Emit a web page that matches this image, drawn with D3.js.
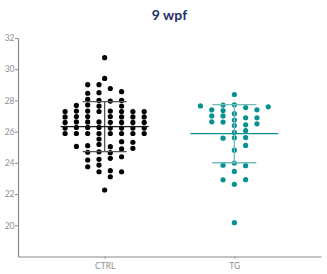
<!DOCTYPE html>
<html><head><meta charset="utf-8">
<script src="https://cdn.jsdelivr.net/npm/d3@7"></script>
<style>html,body{margin:0;padding:0;background:#fff;}svg{display:block;}</style>
</head><body>
<svg id="chart" width="327" height="274"></svg>
<script>
const title = "9 wpf";
const categories = ["CTRL", "TG"];
const yTicks = [20, 22, 24, 26, 28, 30, 32];
const ctrlValues = [30.74, 29.41, 22.26,
  29.01, 28.50, 28.00, 27.64, 27.29, 26.62, 26.27, 25.88, 25.53, 25.18, 24.71, 24.23, 23.86, 23.43,
  28.76, 27.96, 27.32, 26.97, 26.60, 26.23, 25.88, 25.04, 24.65, 24.29, 23.50, 23.11,
  29.01, 28.46, 28.07, 27.71, 27.32, 26.97, 26.62, 26.27, 25.88, 25.10, 24.68, 24.18, 23.75,
  28.56, 28.00, 27.64, 27.29, 26.94, 26.59, 26.23, 25.88, 25.36, 24.89, 24.39, 23.43,
  27.68, 27.32, 26.97, 26.62, 26.27, 25.88, 25.05,
  27.29, 26.94, 26.59, 26.23, 25.88, 25.32, 24.93,
  27.29, 26.94, 26.59, 26.23, 25.88,
  27.29, 26.94, 26.59, 26.23, 25.88];
const tgValues = [28.38, 27.72, 27.15, 26.74, 26.39, 26.06, 25.61, 24.81, 23.99, 23.45, 22.63, 20.17,
  27.54, 26.89, 26.44, 25.62, 25.12, 23.82, 22.92,
  27.70, 27.35, 27.01, 26.61, 25.95, 25.58, 23.85, 22.91,
  27.40, 26.89, 26.50,
  27.40, 27.01, 26.63,
  27.59,
  27.65];
const seriesValues = [ctrlValues, tgValues];
const dotColors = ["#000000", "#07918f"];
const meanColors = ["#1a1a1a", "#07918f"];
const sdColors = ["#555555", "#6cbdbb"];

const svg = d3.select("#chart");
const axisColor = "#8a8a8a";
const y = d3.scaleLinear().domain([18, 32]).range([256.5, 38]);
const x = d3.scalePoint().domain(categories).range([18, 321]).padding(0.668);

// axes
const yAxis = svg.append("g").attr("transform", "translate(18,0)")
  .call(d3.axisLeft(y).tickValues(yTicks).tickSize(3).tickSizeOuter(0));
const xAxis = svg.append("g").attr("transform", "translate(0,256.5)")
  .call(d3.axisBottom(x).tickSize(2).tickSizeOuter(0));
[yAxis, xAxis].forEach(g => {
  g.select(".domain").attr("stroke", axisColor).attr("stroke-width", 1.2);
  g.selectAll(".tick line").attr("stroke", axisColor);
  g.selectAll(".tick text").attr("fill", "#8f8f8f").attr("font-family", "Lato, 'DejaVu Sans', sans-serif").attr("font-size", 8.5);
});
yAxis.selectAll(".tick text").attr("x", -3.5);
xAxis.selectAll(".tick text").attr("y", 6);

svg.append("text").attr("x", 169.5).attr("y", 20).attr("text-anchor", "middle")
  .attr("font-family", "Lato, 'Open Sans', sans-serif").attr("font-weight", 700)
  .attr("font-size", 14).attr("fill", "#1f3161").text(title);

// beeswarm layout: fixed columns, greedy vertical non-overlap, in data order
const step = 11.3, minGap = 5.2;
function layout(values) {
  const half = values.length % 2 === 0;
  const pts = values.map(v => ({v, py: y(v)}));
  const cands = [];
  for (let k = 0; k < 10; k++) {
    if (half) cands.push(-(k + 0.5), k + 0.5);
    else if (k === 0) cands.push(0); else cands.push(k, -k);
  }
  const placed = [];
  pts.forEach(p => {
    const isolated = pts.every(q => q === p || Math.abs(q.py - p.py) >= minGap * 1.15);
    const list = (half && isolated) ? [0].concat(cands) : cands;
    for (const c of list) {
      if (placed.every(q => q.col !== c || Math.abs(q.py - p.py) >= minGap)) {
        p.col = c; placed.push(p); break;
      }
    }
  });
  return placed;
}

categories.forEach((cat, i) => {
  const vals = seriesValues[i];
  const cx = x(cat);
  const m = d3.mean(vals), sd = d3.deviation(vals);
  const g = svg.append("g");
  const pts = layout(vals);
  g.selectAll("circle").data(pts).join("circle")
    .attr("cx", d => cx + d.col * step).attr("cy", d => d.py).attr("r", 2.6)
    .attr("fill", dotColors[i]);
  // error bars
  g.append("line").attr("x1", cx).attr("x2", cx).attr("y1", y(m + sd)).attr("y2", y(m - sd))
    .attr("stroke", sdColors[i]).attr("stroke-width", 1.3);
  [m + sd, m - sd].forEach(v => g.append("line").attr("x1", cx - 22).attr("x2", cx + 22)
    .attr("y1", y(v)).attr("y2", y(v)).attr("stroke", sdColors[i]).attr("stroke-width", 1.3));
  g.append("line").attr("x1", cx - 44).attr("x2", cx + 44).attr("y1", y(m)).attr("y2", y(m))
    .attr("stroke", meanColors[i]).attr("stroke-width", 1.3);
});
</script>
</body></html>
